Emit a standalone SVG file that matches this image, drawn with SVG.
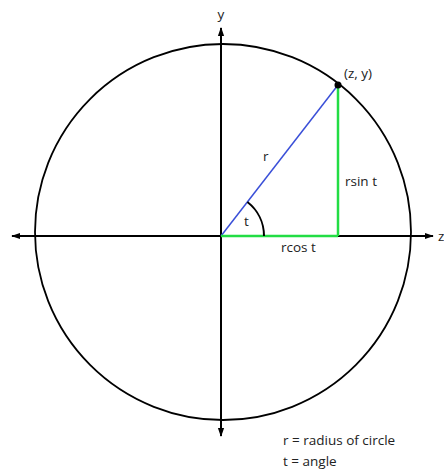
<svg xmlns="http://www.w3.org/2000/svg" width="444" height="469" viewBox="0 0 444 469">
<style>
text{font-family:"Open Sans","Noto Sans","DejaVu Sans",sans-serif;font-size:13.5px;fill:#222}
.ax{stroke:#000;stroke-width:2;fill:none}
</style>
<defs>
<marker id="ah" viewBox="0 0 10 10" refX="9" refY="5" markerWidth="4.5" markerHeight="4.5" orient="auto-start-reverse" markerUnits="strokeWidth">
<path d="M0,1.5 L10,5 L0,8.5 Z" fill="#000"/>
</marker>
</defs>
<rect width="444" height="469" fill="#fff"/>
<g id="circle"><circle cx="223" cy="232" r="188" fill="none" stroke="#000" stroke-width="1.8"/></g>
<g id="connectors">
<line class="ax" x1="12" y1="236" x2="433" y2="236" marker-start="url(#ah)" marker-end="url(#ah)"/>
<line class="ax" x1="221" y1="28" x2="221" y2="436" marker-start="url(#ah)" marker-end="url(#ah)"/>
<line x1="221" y1="236" x2="338" y2="85" stroke="#3a4fd8" stroke-width="1.5"/>
<line x1="221" y1="236" x2="338" y2="236" stroke="#22dd44" stroke-width="2.5"/>
<line x1="338" y1="85" x2="338" y2="236" stroke="#22dd44" stroke-width="2.5"/>
<path d="M247.4,202 A43,43 0 0 1 264,236" fill="none" stroke="#000" stroke-width="2"/>
</g>
<g id="point"><circle cx="338" cy="85" r="3.5" fill="#000"/><text x="344" y="78">(z, y)</text></g>
<g id="labels">
<text x="221" y="19" text-anchor="middle">y</text>
<text x="438" y="241">z</text>
<text x="263" y="161">r</text>
<text x="244" y="226">t</text>
<text x="345" y="186">rsin t</text>
<text x="281" y="252">rcos t</text>
</g>
<g id="legend">
<text x="283" y="445">r = radius of circle</text>
<text x="283" y="466">t = angle</text>
</g>
</svg>
